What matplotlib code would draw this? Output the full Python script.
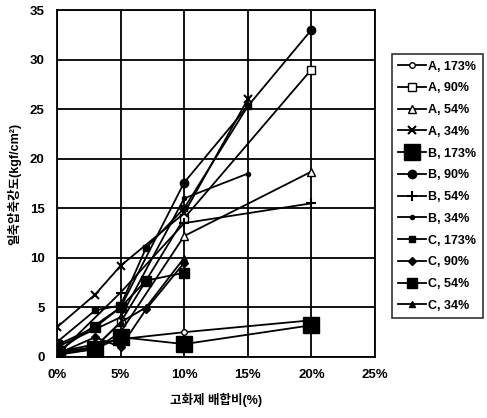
import matplotlib
matplotlib.use("Agg")
import matplotlib.pyplot as plt

plt.rcParams['font.family'] = ['Liberation Sans', 'Noto Sans CJK KR', 'DejaVu Sans']

# mixing ratio (%) and strength (kgf/cm2) per series
labels = ['A, 173%', 'A, 90%', 'A, 54%', 'A, 34%',
          'B, 173%', 'B, 90%', 'B, 54%', 'B, 34%',
          'C, 173%', 'C, 90%', 'C, 54%', 'C, 34%']

a173_x = [0, 5, 10, 20]
a173_y = [0.5, 1.8, 2.5, 3.7]
a90_x = [0, 3, 5, 10, 20]
a90_y = [0.3, 1.0, 3.5, 14.0, 29.0]
a54_x = [0, 3, 5, 10, 20]
a54_y = [0.2, 0.8, 2.5, 12.2, 18.7]
a34_x = [0, 3, 5, 10, 15]
a34_y = [3.0, 6.3, 9.2, 14.5, 26.0]

b173_x = [0, 3, 5, 10, 20]
b173_y = [0.3, 0.8, 2.0, 1.3, 3.2]
b90_x = [0, 5, 10, 20]
b90_y = [0.5, 5.0, 17.6, 33.0]
b54_x = [0, 5, 10, 20]
b54_y = [0.2, 6.5, 13.5, 15.5]
b34_x = [0, 5, 10, 15]
b34_y = [1.0, 4.0, 16.0, 18.5]

c173_x = [0, 3, 5, 7, 10, 15]
c173_y = [1.5, 4.7, 5.2, 11.0, 15.0, 25.3]
c90_x = [0, 3, 5, 7, 10]
c90_y = [0.3, 2.0, 1.0, 4.8, 9.5]
c54_x = [0, 3, 5, 7, 10]
c54_y = [1.2, 3.0, 5.0, 7.7, 8.5]
c34_x = [0, 3, 5, 7, 10]
c34_y = [0.5, 1.0, 3.5, 5.0, 10.0]

series = [(a173_x, a173_y), (a90_x, a90_y), (a54_x, a54_y), (a34_x, a34_y),
          (b173_x, b173_y), (b90_x, b90_y), (b54_x, b54_y), (b34_x, b34_y),
          (c173_x, c173_y), (c90_x, c90_y), (c54_x, c54_y), (c34_x, c34_y)]

# marker, size, filled
styles = [('o', 4, False), ('s', 6, False), ('^', 6, False), ('x', 6, False),
          ('s', 11, True), ('o', 6, True), ('+', 7, True), ('o', 3, True),
          ('s', 4, True), ('D', 4, True), ('s', 7, True), ('^', 5, True)]

fig = plt.figure(figsize=(4.87, 4.18), dpi=100)
ax = fig.add_axes([0.117, 0.146, 0.653, 0.830])

for (xs, ys), lab, (m, ms, filled) in zip(series, labels, styles):
    ax.plot(xs, ys, color='black', lw=1.3, marker=m, markersize=ms,
            markerfacecolor='black' if filled else 'white',
            markeredgecolor='black', markeredgewidth=1.5 if m in ('x', '+') else 1.0,
            label=lab)

ax.set_xlim(0, 25)
ax.set_ylim(0, 35)
ax.set_xticks([0, 5, 10, 15, 20, 25])
ax.set_xticklabels(['0%', '5%', '10%', '15%', '20%', '25%'])
ax.set_yticks(range(0, 36, 5))
ax.grid(True, color='black', lw=1.3)
ax.set_axisbelow(True)
for s in ax.spines.values():
    s.set_linewidth(1.3)
ax.tick_params(length=0, pad=9, labelsize=9.5)
for t in ax.get_xticklabels() + ax.get_yticklabels():
    t.set_fontweight('bold')

ax.set_xlabel('고화제 배합비(%)', fontsize=9, fontweight='bold', labelpad=8)
ax.set_ylabel('일축압축강도(kgf/cm²)', fontsize=9, fontweight='bold', labelpad=6)

leg = fig.legend(loc='upper left', bbox_to_anchor=(0.805, 0.87), fontsize=9,
                 frameon=True, fancybox=False, edgecolor='black',
                 labelspacing=0.78, handlelength=2.2, handletextpad=0.2,
                 borderpad=0.5, borderaxespad=0)
leg.get_frame().set_linewidth(1.2)
for t in leg.get_texts():
    t.set_fontweight('bold')

fig.savefig('out.png', dpi=100)
